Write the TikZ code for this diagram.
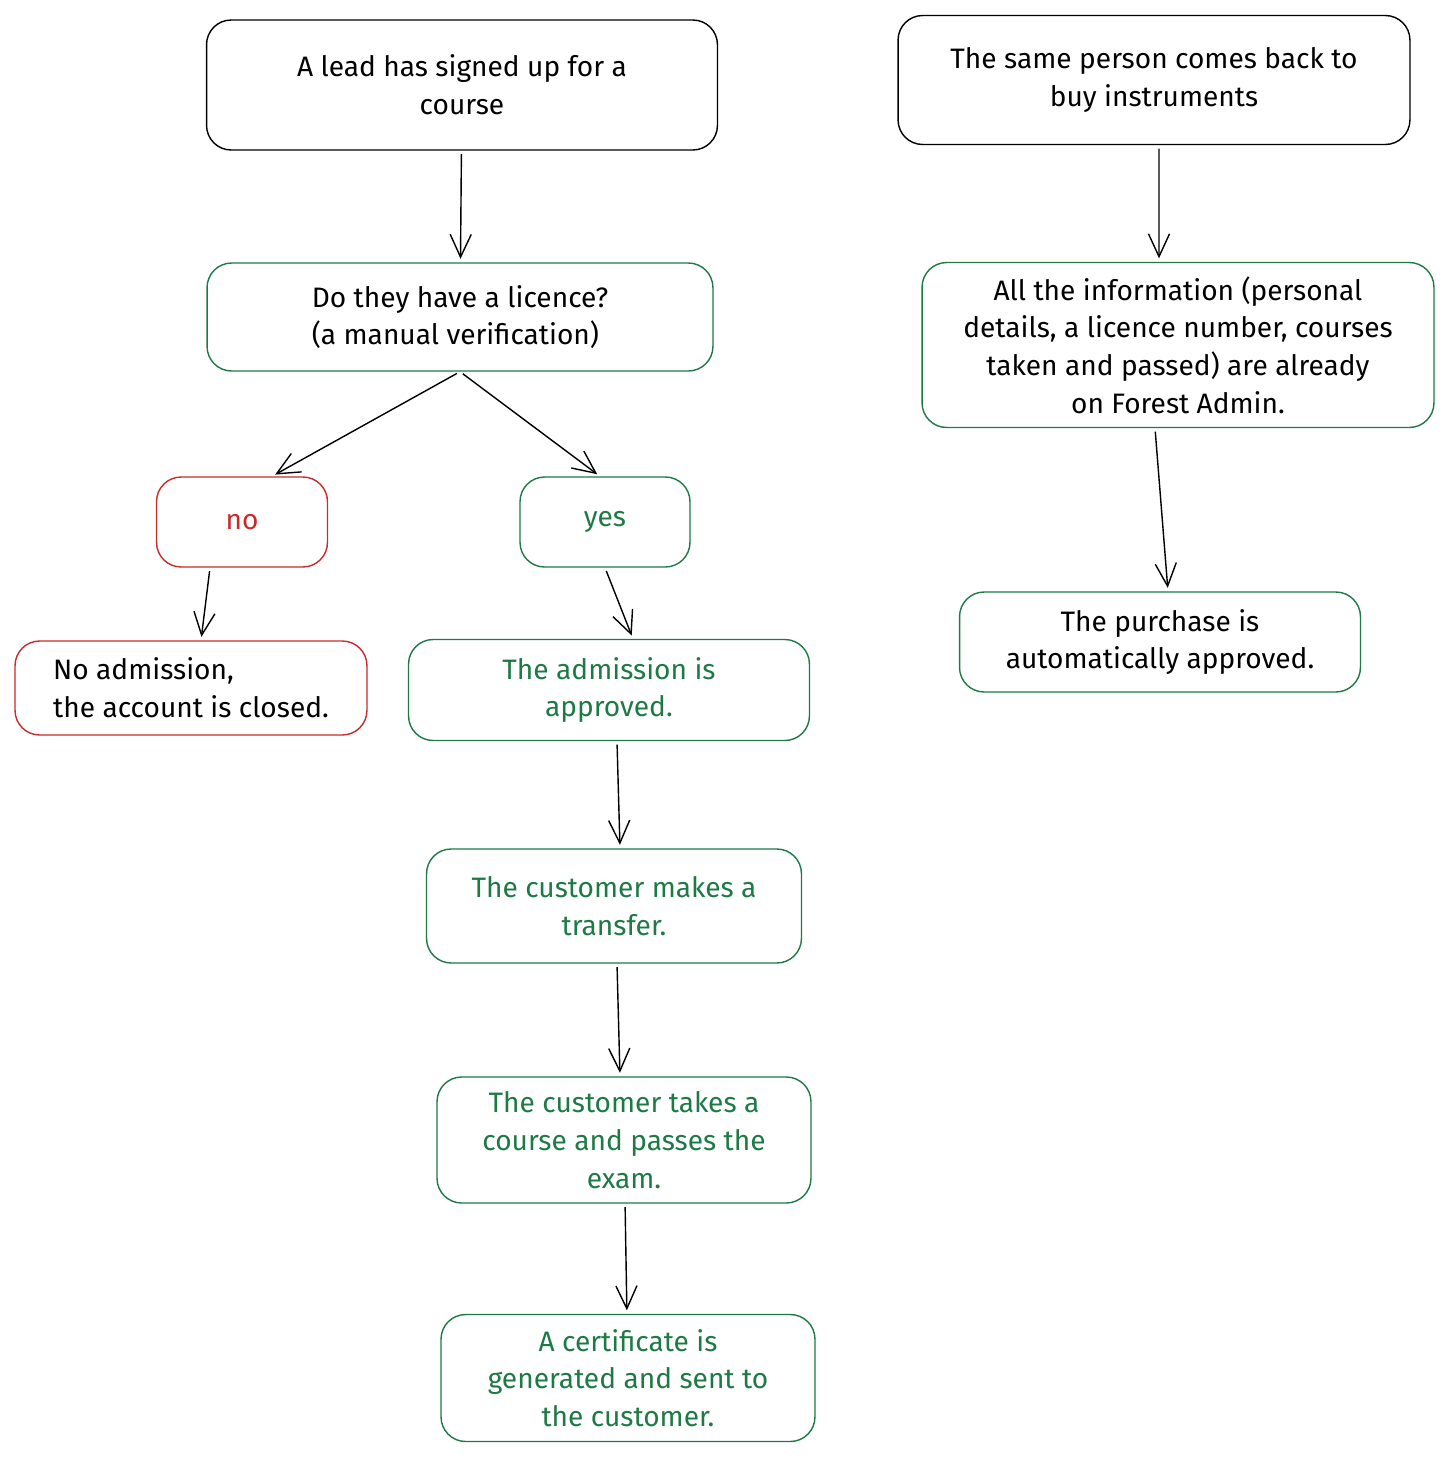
\documentclass[tikz,border=0pt]{standalone}
\usepackage{fontspec}
\setmainfont{Fira Sans}
\usetikzlibrary{arrows.meta}
\definecolor{okgreen}{HTML}{1E7A45}
\definecolor{nored}{HTML}{C92A2A}
\tikzset{
  box/.style={draw, rounded corners=14pt, line width=0.8pt, align=center,
    font=\fontsize{16}{21.5}\selectfont, inner sep=2pt},
  gbox/.style={box, draw=okgreen},
  rbox/.style={box, draw=nored},
  flow/.style={-{Straight Barb[length=13pt,width=12pt]}, line width=0.8pt, shorten >=2pt, shorten <=2pt}
}
\begin{document}
\begin{tikzpicture}[x=0.02cm,y=-0.02cm]
  \useasboundingbox (0,0) rectangle (1449,1458);
  % left column
  \node[box, minimum width=10.22cm, minimum height=2.6cm] (lead) at (462,85) {A lead has signed up for a\\course};
  \node[gbox, minimum width=10.12cm, minimum height=2.16cm, align=left] (licence) at (460,317) {Do they have a licence?\\(a manual verification)};
  \node[rbox, text=nored, minimum width=3.42cm, minimum height=1.8cm] (no) at (242,522) {no};
  \node[gbox, text=okgreen, minimum width=3.4cm, minimum height=1.8cm] (yes) at (605,522) {yes};
  \node[rbox, minimum width=7.04cm, minimum height=1.88cm, align=left] (closed) at (191,688) {No admission,\\the account is closed.};
  \node[gbox, text=okgreen, minimum width=8.02cm, minimum height=2.02cm] (approved) at (609,690) {The admission is\\approved.};
  \node[gbox, text=okgreen, minimum width=7.5cm, minimum height=2.28cm] (transfer) at (614,906) {The customer makes a\\transfer.};
  \node[gbox, text=okgreen, minimum width=7.48cm, minimum height=2.52cm] (exam) at (624,1140) {The customer takes a\\course and passes the\\exam.};
  \node[gbox, text=okgreen, minimum width=7.48cm, minimum height=2.54cm] (cert) at (628,1378) {A certificate is\\generated and sent to\\the customer.};
  % right column
  \node[box, minimum width=10.24cm, minimum height=2.58cm] (back) at (1154,80) {The same person comes back to\\buy instruments};
  \node[gbox, minimum width=10.24cm, minimum height=3.3cm] (info) at (1178,345) {All the information (personal\\details, a licence number, courses\\taken and passed) are already\\on Forest Admin.};
  \node[gbox, minimum width=8.02cm, minimum height=2cm] (purchase) at (1160,642) {The purchase is\\automatically approved.};

  \draw[flow] (lead) -- (licence);
  \draw[flow] (licence.south) -- ([xshift=0.6cm]no.north);
  \draw[flow] (licence.south) -- ([xshift=-0.1cm]yes.north);
  \draw[flow] ([xshift=-0.64cm]no.south) -- ([xshift=0.2cm]closed.north);
  \draw[flow] (yes.south) -- ([xshift=0.48cm]approved.north);
  \draw[flow] ([xshift=0.16cm]approved.south) -- ([xshift=0.12cm]transfer.north);
  \draw[flow] ([xshift=0.06cm]transfer.south) -- ([xshift=-0.08cm]exam.north);
  \draw[flow] (exam) -- (cert);
  \draw[flow] ([xshift=0.1cm]back.south) -- ([xshift=-0.38cm]info.north);
  \draw[flow] ([xshift=-0.46cm]info.south) -- ([xshift=0.16cm]purchase.north);
\end{tikzpicture}
\end{document}
